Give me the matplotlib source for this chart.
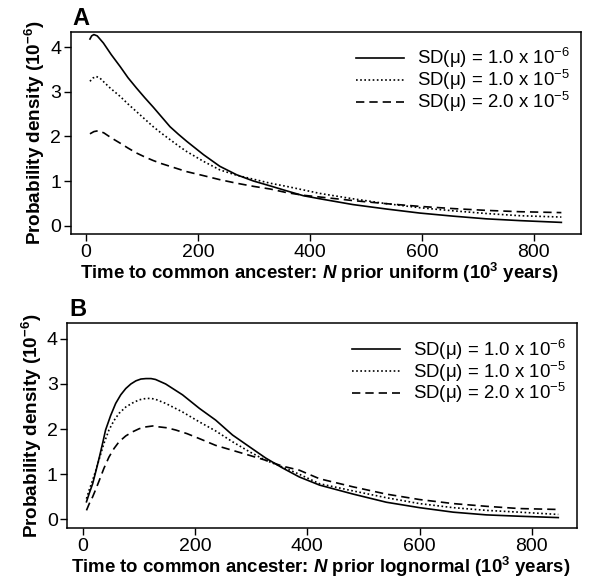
import numpy as np
import matplotlib; matplotlib.use('Agg'); import matplotlib.pyplot as plt

plt.rcParams.update({'font.family':'Liberation Sans','font.size':13.5,
    'mathtext.fontset':'custom','mathtext.rm':'Liberation Sans','mathtext.it':'Liberation Sans:italic',
    'mathtext.bf':'Liberation Sans:bold','mathtext.bfit':'Liberation Sans:bold:italic','mathtext.default':'bf'})

# ---- panel A: N prior uniform (density in 1e-6, time in 1e3 years) ----
tA=[7,10,14,20,31,45,61,75,90,105,120,135,150,165,180,195,210,239,269,299,329,358,388,418,477,537,596,656,715,775,849]
sA1=[4.19,4.26,4.29,4.26,4.10,3.84,3.57,3.32,3.09,2.87,2.66,2.44,2.22,2.05,1.89,1.74,1.59,1.33,1.14,1.00,0.89,0.78,0.67,0.60,0.47,0.37,0.28,0.21,0.15,0.11,0.07]
tA2=[7,12,18,25,33,43,61,75,90,105,120,135,150,165,180,195,210,239,269,299,329,358,388,418,477,537,596,656,715,775,849]
sA2=[3.24,3.31,3.35,3.31,3.21,3.09,2.90,2.73,2.56,2.39,2.22,2.07,1.93,1.79,1.66,1.55,1.44,1.25,1.13,1.04,0.95,0.88,0.80,0.72,0.60,0.49,0.40,0.33,0.27,0.22,0.19]
tA3=[7,14,22,32,45,61,75,90,105,120,135,150,165,180,210,239,269,299,329,358,388,418,477,537,596,656,715,775,849]
sA3=[2.06,2.11,2.13,2.08,1.97,1.85,1.74,1.63,1.54,1.46,1.39,1.33,1.27,1.21,1.12,1.03,0.95,0.88,0.82,0.74,0.68,0.64,0.56,0.49,0.43,0.38,0.34,0.31,0.29]

# ---- panel B: N prior lognormal ----
tB=[7,12,18,24,30,36,41,50,59,68,77,86,95,104,113,122,130,148,178,208,237,267,297,326,356,386,422,482,541,600,660,719,778,847]
sB1=[0.39,0.58,0.79,1.08,1.38,1.70,1.98,2.30,2.57,2.76,2.90,3.00,3.07,3.11,3.12,3.12,3.10,3.00,2.76,2.46,2.20,1.87,1.61,1.36,1.14,0.94,0.76,0.56,0.38,0.26,0.16,0.10,0.07,0.04]
tB2=[7,12,18,24,30,38,47,56,65,77,89,101,113,122,130,148,178,208,237,267,297,326,356,386,422,482,541,600,660,719,778,847]
sB2=[0.46,0.66,0.87,1.10,1.35,1.68,1.98,2.19,2.35,2.49,2.58,2.65,2.68,2.68,2.66,2.57,2.38,2.16,1.96,1.72,1.50,1.31,1.16,1.00,0.79,0.63,0.48,0.35,0.26,0.20,0.16,0.11]
tB3=[7,12,18,24,30,38,47,56,65,77,89,101,113,125,136,150,166,186,208,237,267,297,326,356,386,422,482,541,600,660,719,778,847]
sB3=[0.20,0.35,0.50,0.68,0.87,1.13,1.38,1.57,1.72,1.85,1.94,2.01,2.05,2.07,2.05,2.03,1.98,1.90,1.79,1.64,1.53,1.42,1.31,1.18,1.09,0.90,0.72,0.56,0.44,0.35,0.29,0.24,0.22]

labels=[r'SD(μ) = 1.0 x 10$\mathrm{^{-6}}$', r'SD(μ) = 1.0 x 10$\mathrm{^{-5}}$', r'SD(μ) = 2.0 x 10$\mathrm{^{-5}}$']
styles=['-',(0,(1,1.5)),(0,(5,3))]

fig=plt.figure(figsize=(5.91,5.8),dpi=100)
axA=fig.add_axes([0.120,0.5966,0.863,0.3484])
axB=fig.add_axes([0.114,0.0897,0.862,0.3533])

def panel(ax,series,xl,xlim,tag,xlab_x):
    for (t,s),ls,lab in zip(series,styles,labels):
        ax.plot(t,s,ls=ls,color='k',lw=1.2,label=lab)
    ax.set_xlim(*xlim); ax.set_ylim(-0.19,4.35)
    ax.set_xticks([0,200,400,600,800]); ax.set_yticks([0,1,2,3,4])
    ax.tick_params(direction='out',length=5,width=1,labelsize=14,pad=2)
    for sp in ax.spines.values(): sp.set_linewidth(1.1)
    ax.set_xlabel(xl,fontsize=13.4,fontweight='bold',labelpad=0)
    ax.xaxis.label.set_x(xlab_x)
    ax.set_ylabel('Probability density (10$^{-6}$)',fontsize=13.6,fontweight='bold',labelpad=2)
    ax.legend(loc='upper right',bbox_to_anchor=(0.995,0.97),frameon=False,fontsize=13.4,handlelength=2.6,
              handletextpad=0.7,labelspacing=-0.12,borderaxespad=0.05)
    ax.text(0.003,1.01,tag,transform=ax.transAxes,fontsize=17,fontweight='bold',ha='left',va='bottom')

panel(axA,[(tA,sA1),(tA2,sA2),(tA3,sA3)],
      r'Time to common ancester: $\mathbfit{N}$ prior uniform (10$^3$ years)',(-27,884),'A',0.487)
panel(axB,[(tB,sB1),(tB2,sB2),(tB3,sB3)],
      r'Time to common ancester: $\mathbfit{N}$ prior lognormal (10$^3$ years)',(-27,880),'B',0.497)

fig.savefig('out.png',dpi=100)
